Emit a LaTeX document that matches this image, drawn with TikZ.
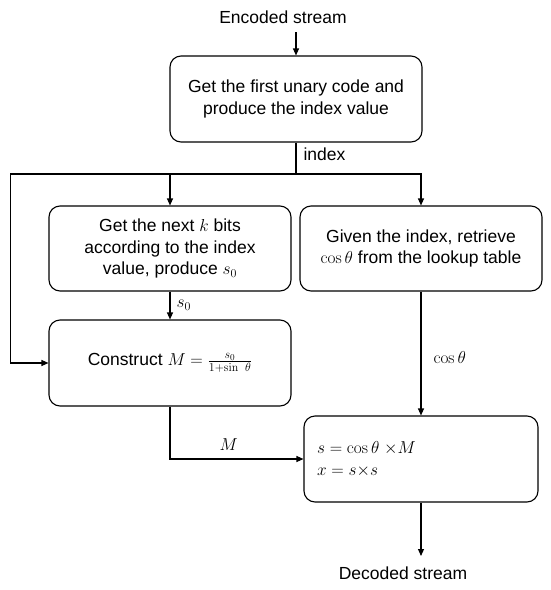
\documentclass[tikz,border=0pt]{standalone}
\usepackage[no-math]{fontspec}
\setmainfont{Liberation Sans}
\usetikzlibrary{arrows.meta}
\begin{document}
\begin{tikzpicture}[x=1pt,y=-1pt,
  box/.style={draw, line width=1.1pt, rounded corners=11pt, align=center,
    font=\fontsize{17.5}{21.7}\selectfont, inner sep=0pt},
  lbl/.style={font=\fontsize{17.5}{21.7}\selectfont, inner sep=0pt},
  conn/.style={line width=1.1pt},
  arr/.style={conn, -{Triangle[length=7pt,width=6pt]}}]
\useasboundingbox (0,0) rectangle (550,590);

\node[lbl] (enc) at (283,17) {Encoded stream};
\coordinate (encEnd) at (296,32);

\node[box, minimum width=252pt, minimum height=86pt] (top) at (296,99)
  {Get the first unary code and\\produce the index value};

\node[box, minimum width=242pt, minimum height=85pt] (kbits) at (170,248.5)
  {Get the next $k$ bits\\according to the index\\value, produce $s_0$};

\node[box, minimum width=242pt, minimum height=85pt] (lookup) at (421,248.5)
  {Given the index, retrieve\\$\cos\theta$ from the lookup table};

\node[box, minimum width=242pt, minimum height=86pt] (construct) at (170,363)
  {Construct $M=\frac{s_0}{1+\sin\ \theta}$};

\node[box, minimum width=234pt, minimum height=86pt, text width=208pt, align=left] (calc) at (421,459)
  {$s=\cos\theta\;{\times}M$\\$x=s{\times}s$};

\node[lbl] (dec) at (403,573) {Decoded stream};
\coordinate (decEnd) at (421,556);

\coordinate (split) at (296,174);
\coordinate (lc) at (10.7,174);

\draw[arr] (encEnd) -- (top.north);
\draw[conn] (top.south) -- (split) node[lbl, pos=0.36, right=7pt] (idx) {index};
\draw[arr] (split) -| (kbits.north);
\draw[arr] (split) -| (lookup.north);
\draw[arr] (split) -- (lc) |- (construct.west);
\draw[arr] (kbits.south) -- (construct.north) node[lbl, midway, right=6pt] (s0l) {$s_0$};
\draw[arr] (lookup.south) -- (calc.north) node[lbl, pos=0.53, right=12pt] (cosl) {$\cos\theta$};
\draw[arr] (construct.south) |- (calc.west) node[lbl, pos=0.72, above=8pt] (ml) {$M$};
\draw[arr] (calc.south) -- (decEnd);
\end{tikzpicture}
\end{document}
